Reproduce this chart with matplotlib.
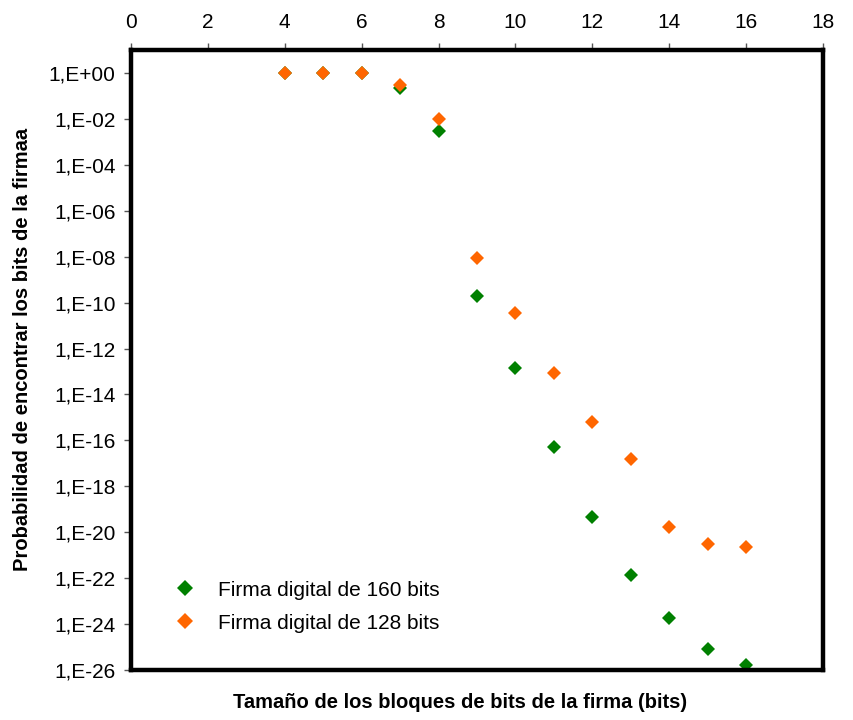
import math
import matplotlib.pyplot as plt
from matplotlib.ticker import FixedLocator, FuncFormatter, NullLocator

plt.rcParams['font.family'] = ['Liberation Sans', 'DejaVu Sans']

bloque = [4, 5, 6, 7, 8, 9, 10, 11, 12, 13, 14, 15, 16]
prob_160 = [1.0, 1.0, 1.0, 0.22, 3.0e-3, 2.0e-10, 1.35e-13, 5.0e-17,
            4.4e-20, 1.4e-22, 1.8e-24, 8.0e-26, 1.6e-26]
prob_128 = [1.0, 1.0, 1.0, 0.3, 1.0e-2, 8.5e-9, 3.4e-11, 8.9e-14,
            6.3e-16, 1.6e-17, 1.7e-20, 3.0e-21, 2.2e-21]
label_160 = "Firma digital de 160 bits"
label_128 = "Firma digital de 128 bits"

fig = plt.figure(figsize=(8.54, 7.2), dpi=100)
ax = fig.add_axes([0.1534, 0.0694, 0.8103, 0.8612])

ax.plot(bloque, prob_160, "D", color="#008000", markersize=7.5,
        markeredgewidth=0, label=label_160, clip_on=False)
ax.plot(bloque, prob_128, "D", color="#FF6600", markersize=7.5,
        markeredgewidth=0, label=label_128, clip_on=False)

ax.set_yscale("log")
ax.set_xlim(0, 18)
ax.set_ylim(1e-26, 1e1)

ax.xaxis.tick_top()
ax.set_xticks(range(0, 19, 2))
ax.yaxis.set_major_locator(FixedLocator([10.0 ** e for e in range(0, -27, -2)]))
ax.yaxis.set_minor_locator(NullLocator())


def fmt_exp(v, pos):
    e = int(round(math.log10(v)))
    sign = "+" if e >= 0 else "-"
    return "1,E%s%02d" % (sign, abs(e))


ax.yaxis.set_major_formatter(FuncFormatter(fmt_exp))
ax.tick_params(axis="both", labelsize=15, length=5, width=1, color="#555555",
               direction="out")
ax.tick_params(axis="x", pad=8)
ax.tick_params(axis="y", pad=6)

for s in ax.spines.values():
    s.set_linewidth(3.2)
    s.set_color("black")

fig.text(0.5386, 0.025, "Tamaño de los bloques de bits de la firma (bits)",
         ha="center", va="center", fontsize=14.5, fontweight="bold")
fig.text(0.026, 0.515, "Probabilidad de encontrar los bits de la firmaa",
         ha="center", va="center", rotation=90, fontsize=14.5, fontweight="bold")

ax.legend(loc="center left", bbox_to_anchor=(0.1698, 0.1576),
          bbox_transform=fig.transFigure, frameon=False, fontsize=15,
          handlelength=2.0, handletextpad=0.6, labelspacing=0.67,
          borderpad=0.4, numpoints=1, markerscale=1.1)

fig.savefig("out.png", dpi=100)
